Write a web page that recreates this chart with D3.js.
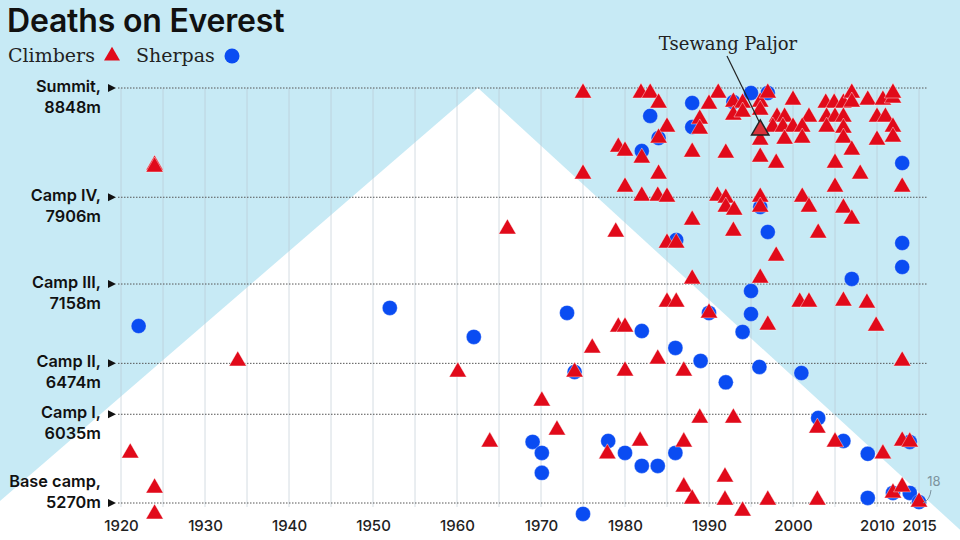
<!DOCTYPE html>
<html><head><meta charset="utf-8">
<script src="https://cdn.jsdelivr.net/npm/d3@7"></script>
<style>body{margin:0;background:#c7eaf5;}svg{display:block}</style>
</head><body><svg id="c" width="960" height="540"></svg>
<script>
const climbers = [[1975,8805],[1981.9,8805],[1983,8805],[1984,8719],[1991.1,8805],[1990,8710],[1992.9,8727],[1994,8719],[1992.9,8615],[1994,8641],[1996.1,8727],[1996.1,8658],[1997,8805],
[1998.1,8598],[1999,8598],[2000,8745],[2001.9,8598],[1997.6,8512],[1998.8,8512],[2000,8512],[2001.1,8512],[1996.1,8400],[1999,8408],[2001.1,8417],
[2003.9,8719],[2004.9,8719],[2006,8719],[2007,8805],[2007,8727],[2008.9,8745],[2010.7,8745],[2011.9,8762],[2011.9,8805],
[2004,8598],[2005,8598],[2006,8598],[2004,8512],[2006,8503],[2006,8417],[2007,8314],[2010,8598],[2011,8598],[2011.9,8512],[2011.9,8426],[2010,8400],
[1988.9,8581],[1988.9,8495],[1985,8512],[1984,8417],[1979.2,8339],[1980,8305],[1982,8245],[1988,8296],[1992,8288],[1996.1,8253],[1998,8201],[2005,8201],[2008,8107],[2013,7995],[2005,7995],[1975,8107],[1980,7995],[1984,8107],[1982,7917],[1983.9,7917],[1985,7908],[1991,7917],[1992,7900],[1992,7822],[1993,7796],[1996.1,7908],[1996.1,7822],[2001.1,7908],[2001.9,7822],[2006,7814],[2007,7719],[1988,7710],[1978.9,7607],[1992.9,7615],[2003,7598],[1985,7512],[1986.1,7512],
[1998,7400],[1988,7202],[1996.1,7210],[1985,7003],[1986.1,7003],[1990,6909],[2000.8,7003],[2001.9,7003],[2006,7012],[2008.8,6995],[1997,6805],[2009.9,6796],[1979.2,6788],[1980,6788],[1976.1,6607],[1983.9,6512],[1987,6409],[1980,6409],[1974,6400],[2013,6495],
[1960.1,6400],[1970.1,6150],[1988.9,6003],[1992.9,6003],[2002.9,5917],[1971.9,5900],[1963.9,5797],[1981.8,5805],[1987,5797],[2005,5797],[2013,5805],[2013.9,5797],[1977.9,5694],[2010.7,5694],[1991.9,5495],[1987,5409],[1988,5305],[1991.9,5296],[1997,5296],[2002.9,5296],[1994,5201],[2011.9,5357],[2013,5409],[2015,5279],
[1921.1,5702],[1924,8184],[1924,8167],[1924,5400],[1924,5176],[1933.9,6495],[1966,7633]];
const sherpas = [[1995,8805],[1997,8805],[1988,8719],[1992.9,8727],[1983,8607],[1988,8512],[1984,8417],[1982,8305],[2013,8201],[1996.1,7822],[1997,7607],[2013,7512],[1986.1,7538],[2013,7305],[2007,7202],[1995,7098],[1995,6900],[1994,6745],[1990,6909],[1982,6753],[1986,6607],[1989,6495],[1996,6443],[2001,6391],[1973.1,6909],[1974,6400],[1992,6310],[2003,6003],[2006,5805],[2008.9,5694],[2008.9,5314],[2011.9,5357],[2013.9,5357],[2013.9,5797],[1969,5797],[1970.1,5702],[1970.1,5530],[1978,5805],[1980,5702],[1982,5590],[1983.9,5590],[1986,5702],[1975,5176],[2015,5279],[1922.1,6796],[1952,6952],[1962,6702]];
const highlight = [1996.1,8486];
const camps = [["Summit,","8848m",8848],["Camp IV,","7906m",7906],["Camp III,","7158m",7158],["Camp II,","6474m",6474],["Camp I,","6035m",6035],["Base camp,","5270m",5270]];
const xTicks = [1920,1930,1940,1950,1960,1970,1980,1990,2000,2010,2015];
const mountain = [[1893,4500],[1962.5,8848],[2028,4500]];

const svg = d3.select("#c");
const x = d3.scaleLinear().domain([1920,2015]).range([121,919]);
const y = d3.scaleLinear().domain([5270,8848]).range([503,88]);
const font = "Inter, Roboto, sans-serif";

svg.append("path").attr("d", d3.line().x(d=>x(d[0])).y(d=>y(d[1]))(mountain)+"Z").attr("fill","#fff");

svg.append("g").selectAll("line").data(d3.range(1920,2016,5)).join("line")
 .attr("x1",d=>x(d)).attr("x2",d=>x(d)).attr("y1",y(8848)).attr("y2",y(5270)+4)
 .attr("stroke","#b9c6ce").attr("stroke-opacity",0.6).attr("stroke-width",1);

const cg = svg.append("g").selectAll("g").data(camps).join("g");
cg.append("line").attr("x1",118).attr("x2",928).attr("y1",d=>y(d[2])).attr("y2",d=>y(d[2]))
 .attr("stroke","#555").attr("stroke-dasharray","1.5,1.5").attr("stroke-width",1);
cg.append("path").attr("d",d=>`M108,${y(d[2])-4}L116,${y(d[2])}L108,${y(d[2])+4}Z`).attr("fill","#111");
const off = d => d[2]===5270 ? -20 : 0;
cg.append("text").attr("x",101).attr("y",d=>y(d[2])+4+off(d)).attr("text-anchor","end")
 .attr("font-family",font).attr("font-weight","600").attr("font-size",16.3).attr("fill","#111").text(d=>d[0]);
cg.append("text").attr("x",101).attr("y",d=>y(d[2])+25+off(d)).attr("text-anchor","end")
 .attr("font-family",font).attr("font-weight","600").attr("font-size",16.3).attr("fill","#111").text(d=>d[1]);

const xa = svg.append("g").attr("transform","translate(0,530)")
 .call(d3.axisBottom(x).tickValues(xTicks).tickFormat(d3.format("d")).tickSize(0));
xa.select(".domain").remove();
xa.selectAll("text").attr("font-family",font).attr("font-weight","500").attr("font-size",15).attr("fill","#222").attr("dy","-0.15em");

const tri = d3.symbol().type(d3.symbolTriangle).size(130);
svg.append("g").selectAll("circle").data(sherpas).join("circle")
 .attr("cx",d=>x(d[0])).attr("cy",d=>y(d[1])).attr("r",7.5).attr("fill","#0a4cf2").attr("stroke","#fff").attr("stroke-width",0.5).attr("stroke-opacity",0.6);
svg.append("g").selectAll("path").data(climbers).join("path")
 .attr("transform",d=>`translate(${x(d[0])},${y(d[1])})`).attr("d",tri).attr("fill","#e10a1a").attr("stroke","#fff").attr("stroke-width",0.6).attr("stroke-opacity",0.7);

svg.append("line").attr("x1",727).attr("y1",56).attr("x2",x(highlight[0])).attr("y2",y(highlight[1])-6).attr("stroke","#222").attr("stroke-width",1.2);
svg.append("path").attr("transform",`translate(${x(highlight[0])},${y(highlight[1])})`).attr("d",tri).attr("fill","#d8323a").attr("stroke","#222").attr("stroke-width",1.5);
svg.append("text").attr("x",728).attr("y",50).attr("text-anchor","middle").attr("font-family","DejaVu Serif, serif").attr("font-size",18).attr("fill","#222").text("Tsewang Paljor");

svg.append("text").attr("x",934).attr("y",486).attr("text-anchor","middle").attr("font-family",font).attr("font-size",13).attr("fill","#7d939e").text("18");
svg.append("path").attr("d","M931,490 Q930,500 923,503").attr("fill","none").attr("stroke","#7d939e").attr("stroke-width",1);

svg.append("text").attr("x",7).attr("y",32).attr("font-family",font).attr("font-weight","600").attr("font-size",32).attr("letter-spacing","-0.2").attr("fill","#111").text("Deaths on Everest");
svg.append("text").attr("x",8).attr("y",62).attr("font-family","DejaVu Serif, serif").attr("font-size",19).attr("fill","#222").text("Climbers");
svg.append("path").attr("transform","translate(112,56)").attr("d",d3.symbol().type(d3.symbolTriangle).size(110)).attr("fill","#e10a1a");
svg.append("text").attr("x",136).attr("y",62).attr("font-family","DejaVu Serif, serif").attr("font-size",19).attr("fill","#222").text("Sherpas");
svg.append("circle").attr("cx",232).attr("cy",56).attr("r",7.5).attr("fill","#0a4cf2");
</script></body></html>
